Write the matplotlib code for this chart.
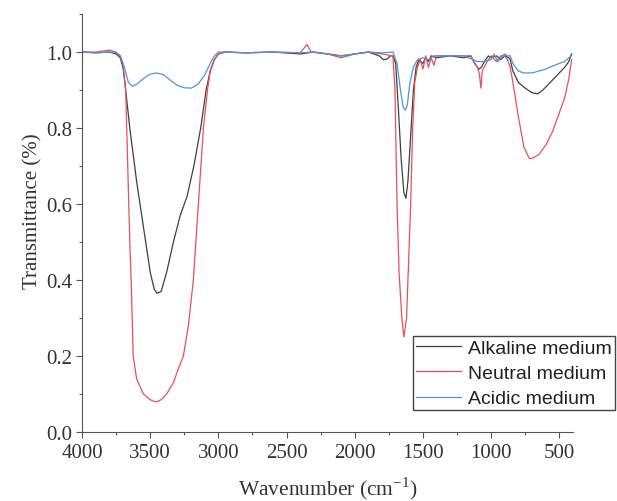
import matplotlib.pyplot as plt
from matplotlib.ticker import MultipleLocator, FormatStrFormatter

# Alkaline medium (dark trace)
alk_wn = [4000, 3900, 3800, 3750, 3720, 3700, 3680, 3650, 3600, 3550, 3500, 3470, 3450,
          3420, 3380, 3330, 3280, 3230, 3180, 3130, 3090, 3060, 3030, 3000, 2950, 2800,
          2600, 2400, 2300, 2200, 2100, 2000, 1900, 1820, 1790, 1760, 1740, 1720, 1700,
          1680, 1660, 1640, 1625, 1610, 1590, 1570, 1550, 1530, 1500, 1480, 1460, 1440,
          1400, 1300, 1200, 1150, 1120, 1090, 1070, 1050, 1020, 1000, 960, 930, 900, 870,
          860, 840, 800, 750, 700, 660, 620, 580, 540, 500, 460, 430, 410]
alk_t = [1.0, 0.998, 1.0, 0.995, 0.985, 0.96, 0.9, 0.8, 0.66, 0.54, 0.42, 0.375, 0.365,
         0.37, 0.42, 0.5, 0.57, 0.62, 0.7, 0.8, 0.9, 0.95, 0.98, 0.995, 1.0, 0.998,
         1.0, 0.995, 1.0, 0.995, 0.99, 0.995, 1.0, 0.99, 0.98, 0.982, 0.99, 0.99, 0.97,
         0.85, 0.72, 0.63, 0.615, 0.66, 0.78, 0.9, 0.96, 0.98, 0.97, 0.985, 0.975, 0.99,
         0.985, 0.99, 0.985, 0.99, 0.97, 0.955, 0.96, 0.975, 0.99, 0.985, 0.99, 0.98, 0.99, 0.985,
         0.98, 0.95, 0.92, 0.905, 0.893, 0.89, 0.9, 0.915, 0.93, 0.945, 0.96, 0.975, 0.995]

# Neutral medium (red trace)
neu_wn = [4000, 3900, 3800, 3750, 3720, 3700, 3680, 3665, 3650, 3640, 3625, 3600, 3550,
          3500, 3470, 3450, 3420, 3380, 3330, 3290, 3257, 3220, 3184, 3147, 3110, 3080,
          3060, 3030, 3000, 2950, 2800, 2600, 2400, 2350, 2320, 2200, 2100, 2000, 1900,
          1800, 1720, 1705, 1690, 1675, 1655, 1640, 1620, 1605, 1590, 1575, 1560, 1540,
          1520, 1500, 1480, 1460, 1440, 1420, 1400, 1300, 1200, 1150, 1120, 1100, 1085,
          1075, 1065, 1050, 1030, 1000, 960, 930, 900, 880, 860, 840, 800, 760, 720, 700,
          650, 600, 550, 500, 460, 430, 410]
neu_t = [1.0, 1.0, 1.005, 1.0, 0.99, 0.97, 0.9, 0.7, 0.5, 0.4, 0.2, 0.14, 0.1,
         0.085, 0.08, 0.08, 0.085, 0.1, 0.13, 0.17, 0.2, 0.28, 0.4, 0.6, 0.8, 0.9,
         0.95, 0.98, 0.995, 1.0, 0.998, 1.0, 0.998, 1.02, 1.0, 0.995, 0.985, 0.995, 1.0,
         0.995, 0.99, 0.9, 0.6, 0.42, 0.3, 0.25, 0.3, 0.45, 0.6, 0.8, 0.92, 0.96,
         0.98, 0.955, 0.99, 0.96, 0.985, 0.965, 0.99, 0.99, 0.99, 0.99, 0.97, 0.96, 0.94,
         0.905, 0.95, 0.96, 0.975, 0.99, 0.975, 0.99, 0.99, 0.98, 0.96, 0.92, 0.83, 0.75, 0.72, 0.72,
         0.73, 0.755, 0.79, 0.84, 0.88, 0.93, 0.98]

# Acidic medium (blue trace)
aci_wn = [4000, 3900, 3800, 3750, 3720, 3690, 3660, 3630, 3600, 3550, 3500, 3450, 3400,
          3350, 3300, 3250, 3200, 3150, 3100, 3060, 3030, 3000, 2950, 2800, 2600, 2400,
          2300, 2200, 2100, 2000, 1900, 1800, 1720, 1690, 1665, 1645, 1630, 1615, 1595,
          1570, 1540, 1500, 1460, 1420, 1400, 1300, 1200, 1100, 1050, 1000, 980, 950,
          920, 900, 880, 860, 840, 800, 760, 700, 650, 600, 550, 500, 460, 430, 410]
aci_t = [1.0, 0.998, 1.0, 0.998, 0.99, 0.96, 0.92, 0.91, 0.915, 0.93, 0.942, 0.945, 0.94,
         0.925, 0.912, 0.906, 0.905, 0.915, 0.94, 0.97, 0.99, 1.0, 1.0, 0.998, 1.0, 0.998,
         1.0, 0.995, 0.99, 0.995, 1.0, 0.998, 1.0, 0.97, 0.9, 0.855, 0.847, 0.86, 0.92,
         0.96, 0.98, 0.985, 0.98, 0.99, 0.99, 0.99, 0.99, 0.975, 0.975, 0.98, 0.995, 0.975,
         0.99, 0.995, 0.99, 0.99, 0.97, 0.95, 0.945, 0.945, 0.95, 0.955, 0.963, 0.97, 0.975, 0.985, 0.99]

labels = ["Alkaline medium", "Neutral medium", "Acidic medium"]
colors = ["#3c423c", "#e8505b", "#5293d8"]

plt.rcParams['font.family'] = ['Liberation Serif', 'DejaVu Serif']
plt.rcParams['mathtext.fontset'] = 'stix'

fig = plt.figure(figsize=(6.17, 5.02), dpi=100)
ax = fig.add_axes([0.133, 0.1375, 0.796, 0.8325])

ax.plot(alk_wn, alk_t, color=colors[0], lw=0.9, label=labels[0])
ax.plot(neu_wn, neu_t, color=colors[1], lw=0.9, label=labels[1])
ax.plot(aci_wn, aci_t, color=colors[2], lw=0.9, label=labels[2])

ax.set_xlim(4000, 398)
ax.set_ylim(0, 1.1)
ax.xaxis.set_major_locator(MultipleLocator(500))
ax.xaxis.set_minor_locator(MultipleLocator(250))
ax.yaxis.set_major_locator(MultipleLocator(0.2))
ax.yaxis.set_minor_locator(MultipleLocator(0.1))
ax.yaxis.set_major_formatter(FormatStrFormatter('%.1f'))
ax.spines['top'].set_visible(False)
ax.spines['right'].set_visible(False)
for s in ['left', 'bottom']:
    ax.spines[s].set_color('#555555')
ax.tick_params(which='major', direction='out', length=4, width=0.8, colors='#555555',
               labelsize=15, labelcolor='#333333', pad=3)
ax.tick_params(axis='x', which='major', pad=4)
ax.tick_params(which='minor', direction='out', length=2.5, width=0.8, colors='#555555')

ax.set_xlabel("Wavenumber (cm$^{\\mathregular{-1}}$)", fontsize=15.5, color='#333333', labelpad=9)
ax.set_ylabel("Transmittance (%)", fontsize=15, color='#333333')
ax.yaxis.set_label_coords(-0.081, 0.53)

leg = ax.legend(loc='upper left', bbox_to_anchor=(413 / 617, (502 - 337) / 502),
                bbox_transform=fig.transFigure, fancybox=False, framealpha=1,
                edgecolor='#444444', handlelength=2.3, labelspacing=0.4,
                borderpad=0.15, handletextpad=0.4, borderaxespad=0,
                prop={'family': 'Liberation Sans', 'size': 14})
leg.get_frame().set_linewidth(1.0)
for t in leg.get_texts():
    t.set_color('#222222')

fig.savefig("out.png", dpi=100)
